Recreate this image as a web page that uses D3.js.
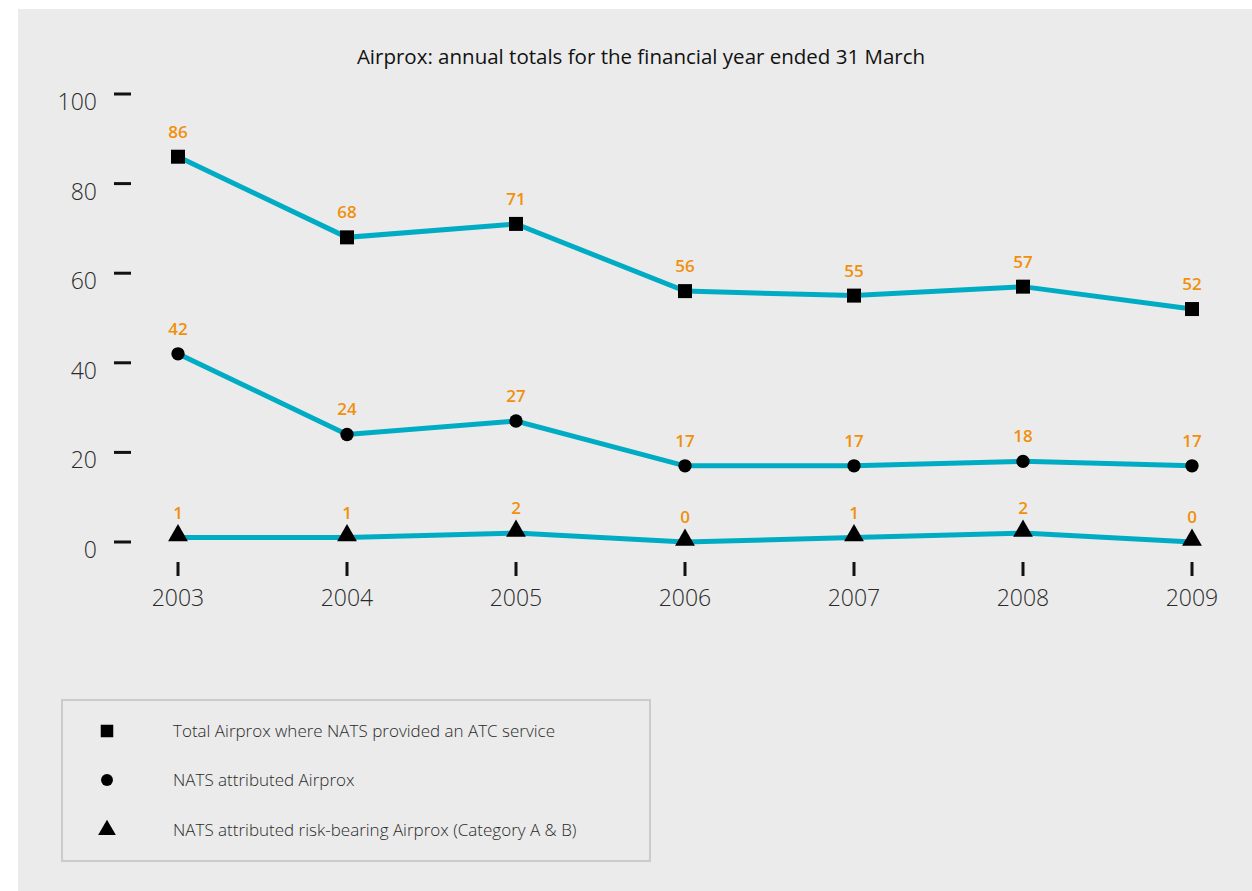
<!DOCTYPE html>
<html>
<head>
<meta charset="utf-8">
<script src="https://cdn.jsdelivr.net/npm/d3@7"></script>
<style>
    body { margin: 0; background: #fff; }
    svg { display: block; font-family: "Open Sans", "DejaVu Sans", sans-serif; }
</style>
</head>
<body>
<svg width="1252" height="891"></svg>
<script>
// chart data
const years = ["2003", "2004", "2005", "2006", "2007", "2008", "2009"];
const totalAirprox = [86, 68, 71, 56, 55, 57, 52];
const natsAttributed = [42, 24, 27, 17, 17, 18, 17];
const riskBearing = [1, 1, 2, 0, 1, 2, 0];
const yTicks = [0, 20, 40, 60, 80, 100];
const seriesNames = [
    "Total Airprox where NATS provided an ATC service",
    "NATS attributed Airprox",
    "NATS attributed risk-bearing Airprox (Category A & B)"
];
const chartTitle = "Airprox: annual totals for the financial year ended 31 March";

const LINE_COLOR = "#00acc4",
    LABEL_COLOR = "#f0900c",
    TEXT_COLOR = "#2a2a2a";

const svg = d3.select("svg");

// grey panel
svg.append("rect")
    .attr("x", 18).attr("y", 9)
    .attr("width", 1252 - 18).attr("height", 891 - 9)
    .attr("fill", "#ebebeb");

const x = d3.scalePoint().domain(years).range([178, 1192]);
const y = d3.scaleLinear().domain([0, 100]).range([542, 94]);

svg.append("text")
    .attr("x", 641).attr("y", 64)
    .attr("text-anchor", "middle")
    .attr("font-size", 20.5)
    .attr("fill", "#111")
    .text(chartTitle);

// y axis: short dashes with labels to the left
const yAxis = svg.append("g");
yAxis.selectAll("line").data(yTicks).enter().append("line")
    .attr("x1", 114).attr("x2", 131)
    .attr("y1", (d) => y(d)).attr("y2", (d) => y(d))
    .attr("stroke", "#111").attr("stroke-width", 3);
yAxis.selectAll("text").data(yTicks).enter().append("text")
    .attr("x", 97).attr("y", (d) => y(d) + 16)
    .attr("text-anchor", "end")
    .attr("font-size", 23).attr("font-weight", 300)
    .attr("fill", TEXT_COLOR)
    .text((d) => d);

// x axis: short vertical marks with year labels
const xAxis = svg.append("g");
xAxis.selectAll("line").data(years).enter().append("line")
    .attr("x1", (d) => x(d)).attr("x2", (d) => x(d))
    .attr("y1", 562).attr("y2", 576)
    .attr("stroke", "#111").attr("stroke-width", 3);
xAxis.selectAll("text").data(years).enter().append("text")
    .attr("x", (d) => x(d)).attr("y", 606)
    .attr("text-anchor", "middle")
    .attr("font-size", 23).attr("font-weight", 300)
    .attr("fill", TEXT_COLOR)
    .text((d) => d);

const series = [
    { values: totalAirprox, symbol: d3.symbolSquare, size: 196 },
    { values: natsAttributed, symbol: d3.symbolCircle, size: 140 },
    { values: riskBearing, symbol: d3.symbolTriangle, size: 170 }
];

const line = d3.line()
    .x((d, i) => x(years[i]))
    .y((d) => y(d));

series.forEach((s) => {
    const g = svg.append("g");
    g.append("path")
        .attr("d", line(s.values))
        .attr("fill", "none")
        .attr("stroke", LINE_COLOR)
        .attr("stroke-width", 5);

    const shift = s.symbol === d3.symbolTriangle ? -2 : 0;
    g.selectAll("path.marker").data(s.values).enter().append("path")
        .attr("class", "marker")
        .attr("d", d3.symbol().type(s.symbol).size(s.size))
        .attr("transform", (d, i) => `translate(${x(years[i])},${y(d) + shift})`)
        .attr("fill", "#000");

    g.selectAll("text").data(s.values).enter().append("text")
        .attr("x", (d, i) => x(years[i]))
        .attr("y", (d) => y(d) - 19)
        .attr("text-anchor", "middle")
        .attr("font-size", 17).attr("font-weight", 600)
        .attr("fill", LABEL_COLOR)
        .text((d) => d);
});

// legend
const legend = svg.append("g");
legend.append("rect")
    .attr("x", 62).attr("y", 700)
    .attr("width", 588).attr("height", 161)
    .attr("fill", "none")
    .attr("stroke", "#cbcbcb").attr("stroke-width", 2);

const legendY = [731, 780, 830];
series.forEach((s, i) => {
    legend.append("path")
        .attr("d", d3.symbol().type(s.symbol).size(s.size * 0.8))
        .attr("transform", `translate(107,${legendY[i]})`)
        .attr("fill", "#000");
    legend.append("text")
        .attr("x", 173).attr("y", legendY[i] + 6)
        .attr("font-size", 17).attr("font-weight", 300)
        .attr("fill", TEXT_COLOR)
        .text(seriesNames[i]);
});
</script>
</body>
</html>
